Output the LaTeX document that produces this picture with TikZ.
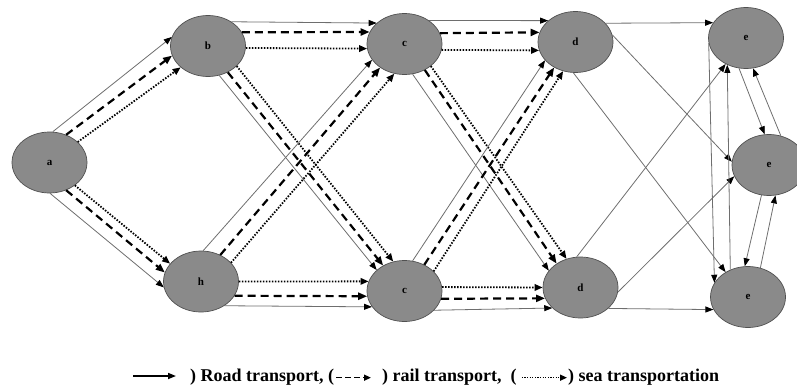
\documentclass[tikz,border=0pt]{standalone}
\usepackage{fontspec}
\setmainfont{Liberation Serif}
\usetikzlibrary{shapes.geometric,arrows.meta}

\definecolor{nodegray}{RGB}{138,138,138}
\definecolor{rimgray}{RGB}{80,80,80}
\definecolor{roadgray}{RGB}{110,110,110}

\tikzset{
  place/.style={ellipse, draw=rimgray, fill=nodegray, line width=0.7pt,
    minimum width=75pt, minimum height=61pt, inner sep=0pt,
    font=\fontsize{11}{11}\selectfont\bfseries},
  road/.style={draw=roadgray, line width=0.8pt,
    -{Triangle[length=8pt,width=6pt,black]}},
  rail/.style={draw=black, line width=2.2pt, dash pattern=on 8pt off 5pt,
    -{Triangle[length=9pt,width=7pt]}},
  sea/.style={draw=black, line width=1.8pt, dash pattern=on 1.5pt off 1.5pt,
    -{Triangle[length=8pt,width=6.5pt]}},
  legendtext/.style={inner sep=0pt, anchor=base west,
    font=\fontsize{18}{18}\selectfont\bfseries},
}

\begin{document}
\begin{tikzpicture}[x=1pt,y=-1pt]
\useasboundingbox (0,0) rectangle (797,388);

% transport network nodes
\node[place] (a)  at (49.5,162.5) {a};
\node[place] (b)  at (208,46)     {b};
\node[place] (h)  at (201,281.5)  {h};
\node[place] (c1) at (404.5,44)   {c};
\node[place] (c2) at (404.5,291)  {c};
\node[place] (d1) at (575.5,42)   {d};
\node[place] (d2) at (580.5,287.5){d};
\node[place] (e1) at (746,38)     {e};
\node[place, minimum width=74pt] (e2) at (769,165) {e};
\node[place] (e3) at (748,297)    {e};

% a -> b, a -> h
\draw[road] (a.84)  -- (b.166);
\draw[rail] (a.59)  -- (b.195);
\draw[sea]  (a.36)  -- (b.218);
\draw[road] (a.-89) -- (h.189);
\draw[rail] (a.-59) -- (h.166);
\draw[sea]  (a.-42) -- (h.150);

% b -> c (top and bottom)
\draw[road] (b.46)  -- (c1.143);
\draw[rail] (b.22)  -- (c1.161);
\draw[sea]  (b.-3)  -- (c1.187);
\draw[road] (b.-69) -- (c2.143);
\draw[rail] (b.-53) -- (c2.130);
\draw[sea]  (b.-35) -- (c2.111);

% h -> c (top and bottom)
\draw[road] (h.86)  -- (c1.206);
\draw[rail] (h.54)  -- (c1.224);
\draw[sea]  (h.32)  -- (c1.251);
\draw[sea]  (h.0)   -- (c2.165);
\draw[rail] (h.-23) -- (c2.188);
\draw[road] (h.-46) -- (c2.206);

% c (top) -> d
\draw[road] (c1.44)  -- (d1.142);
\draw[rail] (c1.17)  -- (d1.165);
\draw[sea]  (c1.-9)  -- (d1.193);
\draw[road] (c1.-75) -- (d2.152);
\draw[rail] (c1.-52) -- (d2.135);
\draw[sea]  (c1.-40) -- (d2.116);

% c (bottom) -> d
\draw[road] (c2.75)  -- (d1.211);
\draw[rail] (c2.53)  -- (d1.230);
\draw[sea]  (c2.34)  -- (d1.247);
\draw[sea]  (c2.6)   -- (d2.180);
\draw[rail] (c2.-12) -- (d2.197);
\draw[road] (c2.-33) -- (d2.216);

% d -> e, road only
\draw[road] (d1.32)  -- (e1.155);
\draw[road] (d1.11)  -- (e2.175);
\draw[road] (d1.266) -- (e3.132);
\draw[road] (d2.97)  -- (e1.232);
\draw[road] (d2.-7)  -- (e2.198);
\draw[road] (d2.-37) -- (e3.200);

% links among the e nodes
\draw[road] (e1.188) -- (e3.157);
\draw[road] (e3.123) -- (e1.235);
\draw[road] (e1.257) -- (e2.98);
\draw[road] (e2.68)  -- (e1.283);
\draw[road] (e2.256) -- (e3.96);
\draw[road] (e3.67)  -- (e2.282);

% legend
\coordinate (lg0) at (133,376);
\coordinate (lg1) at (176,376);
\draw[black, line width=1.6pt, -{Triangle[length=8pt,width=6pt]}] (lg0) -- (lg1);
\node[legendtext] (t1) at (190,381) {) Road transport, (};
\node[legendtext] (t2) at (382,381) {) rail transport,\ \ (};
\node[legendtext] (t3) at (568,381) {) sea transportation};
\draw[black, line width=1.5pt, dash pattern=on 6pt off 3pt,
      -{Triangle[length=7pt,width=6pt]}, shorten <=2pt, shorten >=11pt]
      ([yshift=-1pt]t1.east) -- ([yshift=-1pt]t2.west);
\draw[black, line width=1.4pt, dash pattern=on 1.2pt off 1.4pt,
      -{Triangle[length=7pt,width=6pt]}, shorten <=5pt, shorten >=1pt]
      ([yshift=-1pt]t2.east) -- ([yshift=-1pt]t3.west);
\end{tikzpicture}
\end{document}
